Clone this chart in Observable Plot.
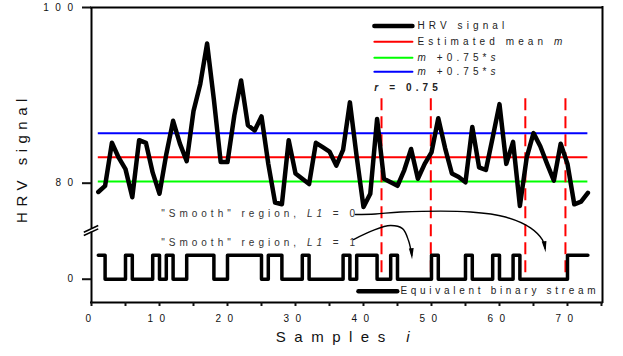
<!DOCTYPE html>
<html><head><meta charset="utf-8">
<script src="https://cdn.jsdelivr.net/npm/d3@7"></script>
<script src="https://cdn.jsdelivr.net/npm/@observablehq/plot@0.6"></script>
<style>
html,body{margin:0;padding:0;background:#fff;}
#chart svg{display:block;}
</style></head><body><div id="chart"></div>
<script>
// ---------------- data ----------------
const hrv = [79.0, 79.7, 84.6, 82.9, 81.6, 78.4, 84.9, 84.6, 81.2, 78.8,
  83.3, 87.1, 84.5, 82.5, 88.2, 91.3, 95.9, 89.5, 82.4, 82.4,
  87.7, 91.7, 86.6, 86.0, 87.6, 82.2, 77.8, 77.6, 84.9, 81.1,
  80.5, 79.9, 84.6, 84.1, 83.6, 82.0, 83.8, 89.2, 83.0, 77.3,
  78.8, 87.3, 80.5, 80.1, 79.7, 81.5, 83.9, 80.5, 82.2, 83.5,
  87.4, 84.0, 81.1, 80.7, 80.1, 86.4, 81.8, 81.5, 85.2, 89.0,
  82.2, 84.7, 77.4, 82.9, 85.7, 84.2, 82.2, 80.3, 84.5, 82.2,
  77.6, 77.9, 78.9];
const binary = [1,1,0,0,0,1,0,0,0,1,
  0,1,0,0,1,1,1,1,0,0,
  1,1,1,1,1,0,1,1,0,0,
  0,1,0,0,0,0,0,1,0,1,
  1,1,0,0,1,0,0,0,0,0,
  1,0,0,0,0,1,0,0,0,1,
  0,0,1,0,0,0,0,0,0,0,
  1,1,1];
const samples = hrv.map((_, i) => i + 1);
const meanM = 82.95;          // estimated mean m
const upperBand = 85.7;       // m + 0.75*s (blue)
const lowerBand = 80.2;       // m - 0.75*s (green)
const rBoundaries = [42.65, 49.9, 63.8, 69.7];
const xTickValues = [0,5,10,15,20,25,30,35,40,45,50,55,60,65,70,75];
const yTickValues = [0, 80, 100];
const legendLabels = ["HRV signal", "Estimated mean _m_", "_m_ +0.75*_s_", "_m_ +0.75*_s_"];

// ---------------- broken-axis layout ----------------
const X_MAX = 75.15, Y_MIN = 66.42, Y_MAX = 100;
const BIN_ZERO = 69.07, BIN_ONE = 71.8;   // lower panel: where 0 / 1 of the binary stream sit
const yPos = v => (v === 0 ? BIN_ZERO : v);

const signalData = samples.map((s, i) => ({sample: s, value: hrv[i]}));
const binaryData = samples.map((s, i) => ({sample: s, level: binary[i] ? BIN_ONE : BIN_ZERO}));

// annotation geometry (data units)
const arrowL0 = [[38.82,76.44],[41.76,76.5],[45.44,76.72],[55.74,76.72],[60.88,76.15],[64.56,74.91],[66.32,73.54],[66.7,72.6]].map(([x,y])=>({x,y}));
const arrowL1 = [[38.53,73.59],[41.32,74.61],[43.97,75.18],[45.74,74.83],[46.62,73.47],[47.1,71.8]].map(([x,y])=>({x,y}));
const arrowHead = {draw(ctx) { ctx.moveTo(0, 4); ctx.lineTo(-2.4, -7); ctx.lineTo(2.4, -7); ctx.closePath(); }};
const breakMarks = [{x1:-1.13,y1:74.42,x2:0.99,y2:75.18},{x1:-1.13,y1:74.04,x2:0.99,y2:74.8}];
const legendV = [97.88, 96.1, 94.28, 92.69];
const legendColors = ["black", "#ff0000", "#00ff00", "#0000ff"];
const legendStroke = [4.5, 2, 2, 2];

const FONT = "'Liberation Sans', Arial, sans-serif";
const plot = Plot.plot({
  width: 623, height: 356,
  marginTop: 7, marginRight: 21, marginBottom: 54, marginLeft: 91,
  x: {domain: [0, X_MAX]},
  y: {domain: [Y_MIN, Y_MAX]},
  style: {fontFamily: FONT, fontSize: "10px", background: "#fff", color: "#111", overflow: "visible"},
  marks: [
    // mean and band lines
    Plot.ruleY([upperBand], {x1: samples[0], x2: samples[samples.length-1], stroke: "#0000ff", strokeWidth: 2}),
    Plot.ruleY([meanM], {x1: samples[0], x2: samples[samples.length-1], stroke: "#ff0000", strokeWidth: 2}),
    Plot.ruleY([lowerBand], {x1: samples[0], x2: samples[samples.length-1], stroke: "#00ff00", strokeWidth: 2}),
    // r boundaries
    Plot.ruleX(rBoundaries, {x: d => d, y1: 89.6, y2: 69.3, stroke: "#ff0000", strokeWidth: 2, strokeDasharray: "12,6"}),
    // HRV signal
    Plot.line(signalData, {x: "sample", y: "value", stroke: "black", strokeWidth: 4.5, strokeLinejoin: "round", strokeLinecap: "round"}),
    // equivalent binary stream
    Plot.line(binaryData, {x: "sample", y: "level", curve: "step-before", stroke: "black", strokeWidth: 3.5, strokeLinejoin: "round", strokeLinecap: "round"}),
    // frame
    Plot.ruleY([Y_MAX], {x1: 0, x2: X_MAX, stroke: "black", strokeWidth: 2, strokeLinecap: "square"}),
    Plot.ruleY([Y_MIN], {x1: 0, x2: X_MAX, stroke: "black", strokeWidth: 2, strokeLinecap: "square"}),
    Plot.ruleX([X_MAX], {y1: Y_MIN, y2: Y_MAX, stroke: "black", strokeWidth: 2, strokeLinecap: "square"}),
    Plot.ruleX([0], {y1: 74.83, y2: Y_MAX, stroke: "black", strokeWidth: 2}),
    Plot.ruleX([0], {y1: Y_MIN, y2: 74.45, stroke: "black", strokeWidth: 2}),
    Plot.link(breakMarks, {x1: "x1", y1: "y1", x2: "x2", y2: "y2", stroke: "black", strokeWidth: 1.6}),
    // axes
    Plot.axisY({ticks: yTickValues.map(yPos), tickFormat: d => (d === BIN_ZERO ? "0" : String(d)), tickSize: 9, tickPadding: 3, strokeWidth: 2, fontSize: 10}),
    Plot.axisX({ticks: xTickValues, tickFormat: d => (d % 10 === 0 ? String(d) : ""), tickSize: 4, tickPadding: 8, strokeWidth: 2, fontSize: 10}),
    Plot.text(["Samples _i_"], {text: d => d, frameAnchor: "bottom", textAnchor: "middle", dy: 39, fontSize: 15, ariaDescription: "xtitle"}),
    Plot.text(["HRV signal"], {text: d => d, frameAnchor: "left", textAnchor: "middle", dx: -69, dy: 3, rotate: -90, fontSize: 15, ariaDescription: "ytitle"}),
    // legend
    Plot.link(legendV, {x1: 41.6, x2: 47.2, y1: d => d, y2: d => d, stroke: (d, i) => legendColors[i], strokeWidth: (d, i) => legendStroke[i], strokeLinecap: "round"}),
    Plot.text(legendV, {x: 47.94, y: d => d, text: (d, i) => legendLabels[i], textAnchor: "start", fontSize: 10, fill: "#222", ariaDescription: "legend"}),
    Plot.text(["_r_ = 0.75"], {text: d => d, x: 41.6, y: 90.82, textAnchor: "start", fontSize: 10, fontWeight: "bold", fill: "#222", ariaDescription: "legend"}),
    Plot.link([67.7], {x1: 39.26, x2: 44.96, y1: d => d, y2: d => d, stroke: "black", strokeWidth: 4.5, strokeLinecap: "round"}),
    Plot.text(["Equivalent binary stream"], {text: d => d, x: 45.44, y: 67.7, textAnchor: "start", fontSize: 10, fill: "#222", ariaDescription: "legend2"}),
    // annotations
    Plot.text(["\"Smooth\" region, _L1_ = 0"], {text: d => d, x: 10.25, y: 76.55, textAnchor: "start", fontSize: 10, fill: "#333", ariaDescription: "note"}),
    Plot.text(["\"Smooth\" region, _L1_ = 1"], {text: d => d, x: 10.25, y: 73.17, textAnchor: "start", fontSize: 10, fill: "#333", ariaDescription: "note"}),
    Plot.line(arrowL0, {x: "x", y: "y", curve: "catmull-rom", stroke: "black", strokeWidth: 1.4}),
    Plot.line(arrowL1, {x: "x", y: "y", curve: "catmull-rom", stroke: "black", strokeWidth: 1.4}),
    Plot.dot([arrowL0[arrowL0.length-1], arrowL1[arrowL1.length-1]], {x: "x", y: "y", symbol: arrowHead, fill: "black", stroke: null, r: 4, rotate: (d, i) => (i === 0 ? -8 : -4)})
  ]
});

const svg = plot;
function setSpacing(sel, px) { svg.querySelectorAll(sel).forEach(t => t.style.letterSpacing = px + "px"); }
setSpacing('g[aria-label$="tick label"] text', 6.5);
setSpacing('g[aria-description="xtitle"] text', 8.5);
setSpacing('g[aria-description="ytitle"] text', 5.5);
setSpacing('g[aria-description="legend"] text', 4.1);
setSpacing('g[aria-description="legend2"] text', 3.7);
setSpacing('g[aria-description="note"] text', 4);
// italic parts marked with _..._
svg.querySelectorAll("text").forEach(t => {
  const s = t.textContent;
  if (!s.includes("_")) return;
  t.textContent = "";
  s.split("_").forEach((part, i) => {
    if (!part) return;
    const ts = document.createElementNS("http://www.w3.org/2000/svg", "tspan");
    ts.textContent = part;
    if (i % 2 === 1) ts.setAttribute("font-style", "italic");
    t.appendChild(ts);
  });
});
document.getElementById("chart").appendChild(svg);
</script></body></html>
